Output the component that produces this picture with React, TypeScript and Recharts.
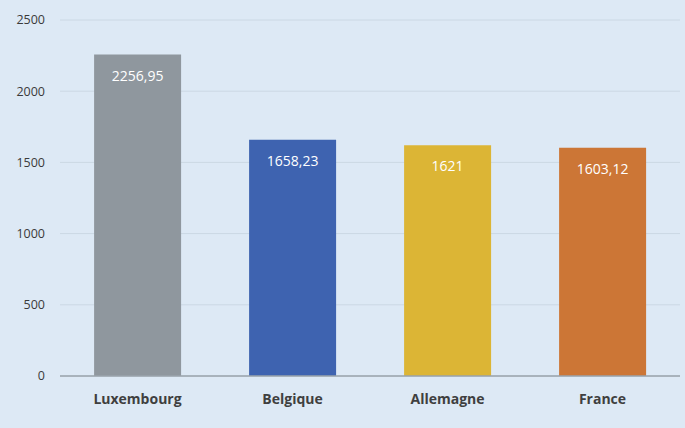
import React from "react";
import { BarChart, Bar, XAxis, YAxis, CartesianGrid, Cell, LabelList } from "recharts";

const categories = ["Luxembourg", "Belgique", "Allemagne", "France"];
const values = [2256.95, 1658.23, 1621, 1603.12];
const valueLabels = ["2256,95", "1658,23", "1621", "1603,12"];
const yTicks = [0, 500, 1000, 1500, 2000, 2500];
const colors = ["#8f979e", "#3e63b0", "#dcb535", "#cc7636"];

const data = categories.map((c, i) => ({ name: c, value: values[i], label: valueLabels[i] }));

export default function App() {
  return (
    <div style={{ position: "fixed", left: 0, top: 0, width: 685, height: 428, background: "#dde9f5", fontFamily: "'Open Sans', sans-serif" }}>
      <BarChart width={685} height={428} data={data} margin={{ top: 20, right: 5, left: 0, bottom: 22 }} barCategoryGap="22%">
        <CartesianGrid vertical={false} stroke="#cbd8e4" strokeWidth={1} />
        <XAxis
          dataKey="name"
          height={30}
          tickLine={false}
          tickSize={0}
          tickMargin={18}
          axisLine={{ stroke: "#9aa3ab", strokeWidth: 1.5 }}
          tick={{ fill: "#3f3f3f", fontSize: 14, fontWeight: 700 }}
        />
        <YAxis
          width={60}
          domain={[0, 2500]}
          ticks={yTicks}
          axisLine={false}
          tickLine={false}
          tickSize={0}
          tickMargin={15}
          tick={{ fill: "#3a3a3a", fontSize: 12.5 }}
        />
        <Bar dataKey="value" isAnimationActive={false}>
          {data.map((d, i) => (
            <Cell key={d.name} fill={colors[i]} />
          ))}
          <LabelList dataKey="label" position="insideTop" offset={16} fill="#ffffff" fontSize={14} />
        </Bar>
      </BarChart>
    </div>
  );
}
